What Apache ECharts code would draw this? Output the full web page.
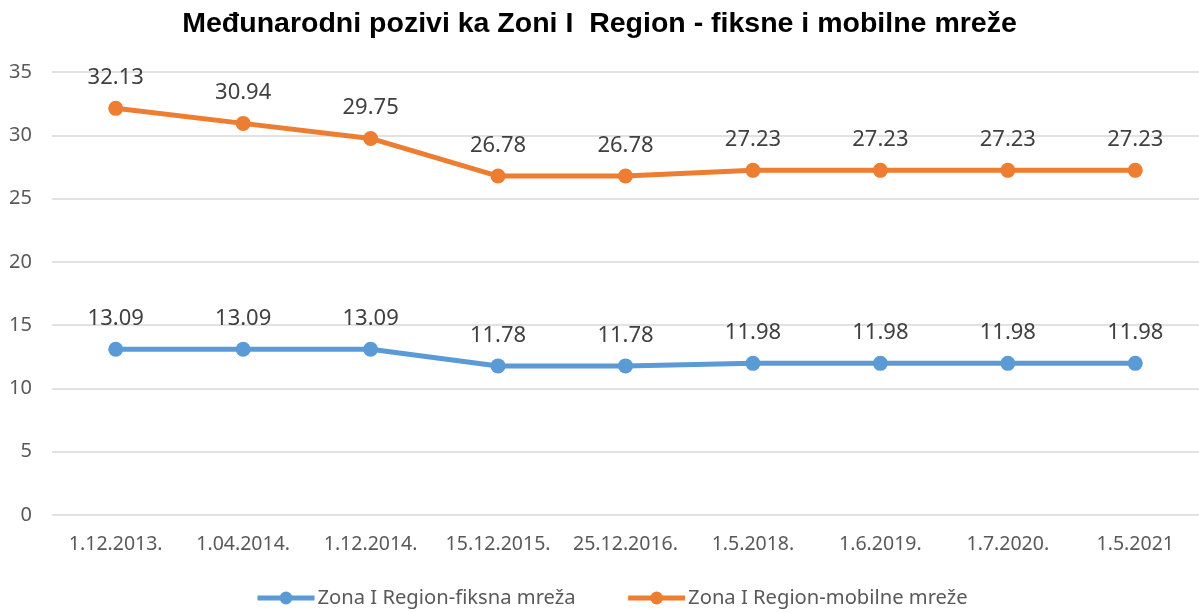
<!DOCTYPE html>
<html>
<head>
<meta charset="utf-8">
<script src="https://cdn.jsdelivr.net/npm/echarts@6/dist/echarts.min.js"></script>
<style>
  html, body { margin: 0; padding: 0; background: #fff; }
  #chart { width: 1199px; height: 613px; }
</style>
</head>
<body>
<div id="chart"></div>
<script>
var categories = ['1.12.2013.', '1.04.2014.', '1.12.2014.', '15.12.2015.', '25.12.2016.', '1.5.2018.', '1.6.2019.', '1.7.2020.', '1.5.2021'];
var fiksna = [13.09, 13.09, 13.09, 11.78, 11.78, 11.98, 11.98, 11.98, 11.98];
var mobilna = [32.13, 30.94, 29.75, 26.78, 26.78, 27.23, 27.23, 27.23, 27.23];

var myChart = echarts.init(document.getElementById('chart'));

var labelStyle = {
    show: true,
    position: 'top',
    distance: 12,
    color: '#404040',
    fontSize: 22,
    fontFamily: 'Noto Sans'
};

var option = {
    title: {
        text: 'Međunarodni pozivi ka Zoni I  Region - fiksne i mobilne mreže',
        left: 'center',
        top: 5,
        textStyle: { fontSize: 28.5, fontWeight: 'bold', color: '#000', fontFamily: 'Liberation Sans' }
    },
    legend: {
        bottom: 0,
        left: 250,
        itemWidth: 57,
        itemHeight: 16,
        itemGap: 50,
        lineStyle: { width: 5 },
        textStyle: { fontSize: 20.2, color: '#595959', fontFamily: 'Noto Sans', padding: [0, 0, 0, -2] },
        data: ['Zona I Region-fiksna mreža', 'Zona I Region-mobilne mreže']
    },
    grid: { left: 52, width: 1154, top: 72, bottom: 98 },
    xAxis: {
        type: 'category',
        data: categories,
        axisLine: { show: false },
        axisTick: { show: false },
        axisLabel: { color: '#595959', fontSize: 19.5, margin: 19, interval: 0, fontFamily: 'Noto Sans' }
    },
    yAxis: {
        type: 'value',
        min: 0,
        max: 35,
        interval: 5,
        axisLabel: { color: '#595959', fontSize: 20, margin: 20, fontFamily: 'Noto Sans' },
        splitLine: { lineStyle: { color: '#D9D9D9', width: 1.5 } }
    },
    series: [
        {
            name: 'Zona I Region-fiksna mreža',
            type: 'line',
            data: fiksna,
            symbol: 'circle',
            symbolSize: 15,
            lineStyle: { width: 5, color: '#5B9BD5' },
            itemStyle: { color: '#5B9BD5' },
            label: labelStyle
        },
        {
            name: 'Zona I Region-mobilne mreže',
            type: 'line',
            data: mobilna,
            symbol: 'circle',
            symbolSize: 15,
            lineStyle: { width: 5, color: '#ED7D31' },
            itemStyle: { color: '#ED7D31' },
            label: labelStyle
        }
    ],
    animation: false
};

myChart.setOption(option);
</script>
</body>
</html>
